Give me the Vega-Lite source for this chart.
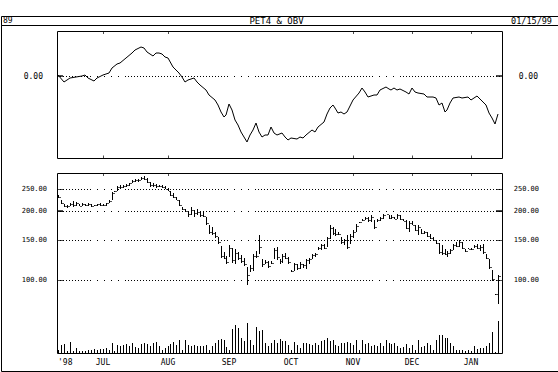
{
  "$schema": "https://vega.github.io/schema/vega-lite/v6.json",
  "padding": {"left": 0, "top": 15, "right": 0, "bottom": 0},
  "background": "white",
  "spacing": 0,
  "bounds": "flush",
  "config": {
    "view": {"stroke": "black", "strokeWidth": 1},
    "axis": {"disable": true},
    "mark": {"color": "black"},
    "text": {"font": "DejaVu Sans Mono", "fill": "black", "baseline": "middle"},
    "style": {
      "griddots": {
        "strokeDash": [
          1,2,1,2,1,2,1,2,1,2,1,2,1,2,1,2,1,2,1,2,1,2,
          1,6,1,6,1,6,1,6,1,6,
          1,2,1,2,1,2,1,2,1,2,1,2,1,2,1,2,1,2,1,2,
          1,2,1,2,1,2,1,2,1,2,1,2,1,2,1,2,1,2,1,2,
          1,2,1,2,1,2,1,2,1,2,1,2,1,2,1,2,1,2,1,2,
          1,2,1,2,1,2,1,2,
          1,6,1,6,1,6,1,6,
          1,2,1,2,1,2,1,2,1,2,1,2,1,2,1,2,1,2,1,2,
          1,2,1,2,1,2,1,2,1,2,1,2,1,2,1,2,1,2,1,2,
          1,2,1,2,1,2,1,2,1,2,1,2,1,2,1,2,1,2,1,2,
          1,2,1,2,1,2,1,2,1,2,1,2,1,2,1,2,1,2,
          1,6,1,6,1,6,1,6,
          1,2,1,2,1,2,1,2,1,2,1,2,1,2,1,2,1,2,1,2,
          1,2,1,2,1,2,1,2,1,2,1,2,1,2,1,2,1,2,1,2,
          1,2,1,2,1,2,1,2,1,2,1,2,1,2,1,2,1,2,1,2,
          1,2,1,2,1,2,1,2,1,2
        ]
      }
    }
  },
  "datasets": {
    "bars": [
      {"i":0,"h":235,"l":227,"c":229,"v":33},{"i":1,"h":224,"l":215,"c":217,"v":83},{"i":2,"h":215,"l":207,"c":209,"v":93},{"i":3,"h":213,"l":206,"c":211,"v":20},{"i":4,"h":216,"l":211,"c":214,"v":107},
      {"i":5,"h":220,"l":208,"c":212,"v":20},{"i":6,"h":218,"l":211,"c":216,"v":50},{"i":7,"h":214,"l":209,"c":211,"v":23},{"i":8,"h":217,"l":210,"c":214,"v":17},{"i":9,"h":215,"l":209,"c":213,"v":23},
      {"i":10,"h":216,"l":211,"c":215,"v":33},{"i":11,"h":214,"l":208,"c":210,"v":33},{"i":12,"h":213,"l":209,"c":212,"v":40},{"i":13,"h":215,"l":210,"c":214,"v":33},{"i":14,"h":216,"l":210,"c":213,"v":43},
      {"i":15,"h":214,"l":209,"c":212,"v":43},{"i":16,"h":217,"l":211,"c":216,"v":50},{"i":17,"h":223,"l":216,"c":221,"v":30},{"i":18,"h":241,"l":222,"c":239,"v":100},{"i":19,"h":244,"l":242,"c":243,"v":20},
      {"i":20,"h":256,"l":245,"c":253,"v":83},{"i":21,"h":258,"l":248,"c":255,"v":73},{"i":22,"h":259,"l":251,"c":257,"v":83},{"i":23,"h":262,"l":253,"c":260,"v":93},{"i":24,"h":265,"l":256,"c":263,"v":67},
      {"i":25,"h":271,"l":264,"c":269,"v":100},{"i":26,"h":274,"l":266,"c":271,"v":57},{"i":27,"h":274,"l":268,"c":272,"v":50},{"i":28,"h":280,"l":271,"c":278,"v":93},{"i":29,"h":282,"l":273,"c":276,"v":100},
      {"i":30,"h":278,"l":265,"c":268,"v":93},{"i":31,"h":266,"l":253,"c":258,"v":67},{"i":32,"h":263,"l":253,"c":260,"v":100},{"i":33,"h":262,"l":251,"c":256,"v":107},{"i":34,"h":260,"l":253,"c":257,"v":67},
      {"i":35,"h":259,"l":251,"c":254,"v":33},{"i":36,"h":256,"l":249,"c":250,"v":50},{"i":37,"h":251,"l":243,"c":245,"v":67},{"i":38,"h":244,"l":232,"c":234,"v":93},{"i":39,"h":239,"l":227,"c":230,"v":107},
      {"i":40,"h":229,"l":222,"c":224,"v":83},{"i":41,"h":222,"l":210,"c":212,"v":127},{"i":42,"h":208,"l":202,"c":204,"v":30},{"i":43,"h":204,"l":197,"c":199,"v":127},{"i":44,"h":199,"l":189,"c":194,"v":83},
      {"i":45,"h":208,"l":191,"c":201,"v":67},{"i":46,"h":201,"l":189,"c":195,"v":83},{"i":47,"h":204,"l":192,"c":198,"v":73},{"i":48,"h":197,"l":189,"c":192,"v":73},{"i":49,"h":199,"l":188,"c":190,"v":67},
      {"i":50,"h":188,"l":174,"c":177,"v":83},{"i":51,"h":174,"l":159,"c":162,"v":30},{"i":52,"h":170,"l":157.5,"c":160,"v":67},{"i":53,"h":162,"l":153,"c":155,"v":100},{"i":54,"h":154,"l":144,"c":146,"v":133},
      {"i":55,"h":140.7,"l":125,"c":128,"v":140},{"i":56,"h":132.6,"l":123,"c":125,"v":133},{"i":57,"h":128,"l":117,"c":120,"v":60},{"i":58,"h":141.7,"l":126,"c":138,"v":30},{"i":59,"h":138,"l":119,"c":122,"v":240},
      {"i":60,"h":137,"l":117,"c":131,"v":283},{"i":61,"h":132.6,"l":122,"c":125,"v":250},{"i":62,"h":129,"l":119,"c":121,"v":150},{"i":63,"h":125,"l":115.5,"c":118,"v":117},{"i":64,"h":114,"l":95,"c":105,"v":300},
      {"i":65,"h":116,"l":109,"c":113,"v":127},{"i":66,"h":130,"l":110,"c":127,"v":83},{"i":67,"h":133.5,"l":125,"c":128,"v":260},{"i":68,"h":156.5,"l":130,"c":140,"v":217},{"i":69,"h":124,"l":114,"c":117,"v":227},
      {"i":70,"h":122,"l":117,"c":120,"v":100},{"i":71,"h":121,"l":113,"c":115,"v":67},{"i":72,"h":121,"l":117,"c":119,"v":100},{"i":73,"h":138,"l":123,"c":135,"v":127},{"i":74,"h":140,"l":122,"c":126,"v":100},
      {"i":75,"h":123,"l":118,"c":121,"v":140},{"i":76,"h":130,"l":119,"c":127,"v":117},{"i":77,"h":131,"l":123,"c":125,"v":117},{"i":78,"h":126,"l":118,"c":120,"v":83},{"i":79,"h":111,"l":109,"c":110,"v":30},
      {"i":80,"h":119,"l":110,"c":117,"v":107},{"i":81,"h":117,"l":111,"c":113,"v":83},{"i":82,"h":120,"l":112,"c":118,"v":50},{"i":83,"h":118,"l":113,"c":116,"v":100},{"i":84,"h":124,"l":112,"c":122,"v":100},
      {"i":85,"h":125,"l":117,"c":124,"v":93},{"i":86,"h":130,"l":124,"c":129,"v":83},{"i":87,"h":131,"l":126,"c":130,"v":100},{"i":88,"h":139,"l":135,"c":138,"v":83},{"i":89,"h":144,"l":135,"c":142,"v":117},
      {"i":90,"h":143,"l":136,"c":138,"v":133},{"i":91,"h":154,"l":139,"c":152,"v":150},{"i":92,"h":173,"l":151,"c":168,"v":117},{"i":93,"h":170,"l":156.5,"c":160,"v":133},{"i":94,"h":167,"l":155,"c":158,"v":83},
      {"i":95,"h":162,"l":156.5,"c":159,"v":67},{"i":96,"h":154,"l":144,"c":147,"v":100},{"i":97,"h":151,"l":142,"c":149,"v":100},{"i":98,"h":156.5,"l":136,"c":140,"v":107},{"i":99,"h":159,"l":144,"c":156,"v":100},
      {"i":100,"h":164.5,"l":153,"c":162,"v":83},{"i":101,"h":175.8,"l":162.7,"c":172,"v":133},{"i":102,"h":179,"l":178,"c":178.7,"v":30},{"i":103,"h":184.8,"l":179.9,"c":183,"v":133},{"i":104,"h":189,"l":181.7,"c":187,"v":93},
      {"i":105,"h":187.9,"l":178.7,"c":182,"v":100},{"i":106,"h":191,"l":178.7,"c":189,"v":73},{"i":107,"h":182.9,"l":167.2,"c":170,"v":83},{"i":108,"h":184.8,"l":178.7,"c":183,"v":73},{"i":109,"h":189,"l":179.9,"c":187,"v":100},
      {"i":110,"h":193,"l":184.8,"c":191,"v":67},{"i":111,"h":194.5,"l":193.5,"c":194,"v":133},{"i":112,"h":192.3,"l":184.8,"c":186,"v":100},{"i":113,"h":191,"l":183.5,"c":189,"v":93},{"i":114,"h":187.9,"l":183.5,"c":185,"v":100},
      {"i":115,"h":193,"l":183.5,"c":191,"v":67},{"i":116,"h":192.3,"l":181.7,"c":184,"v":50},{"i":117,"h":184.8,"l":179.9,"c":181,"v":60},{"i":118,"h":181.7,"l":166,"c":168,"v":93},{"i":119,"h":179.9,"l":161.8,"c":177,"v":50},
      {"i":120,"h":179.9,"l":172.9,"c":174,"v":83},{"i":121,"h":174,"l":163,"c":165,"v":30},{"i":122,"h":172.9,"l":156.5,"c":170,"v":133},{"i":123,"h":166,"l":159.1,"c":161,"v":57},{"i":124,"h":163.4,"l":159.1,"c":162,"v":67},
      {"i":125,"h":161.8,"l":153.9,"c":155,"v":100},{"i":126,"h":159.1,"l":150.4,"c":152,"v":83},{"i":127,"h":153.9,"l":148,"c":149,"v":30},{"i":128,"h":148.9,"l":144,"c":145,"v":133},{"i":129,"h":145,"l":130.4,"c":132,"v":183},
      {"i":130,"h":142.6,"l":129,"c":131,"v":183},{"i":131,"h":137,"l":128.2,"c":130,"v":150},{"i":132,"h":133.5,"l":126.1,"c":131,"v":150},{"i":133,"h":137,"l":130.4,"c":135,"v":100},{"i":134,"h":144,"l":134.8,"c":142,"v":67},
      {"i":135,"h":146.4,"l":139.3,"c":141,"v":33},{"i":136,"h":149.9,"l":139.3,"c":147,"v":33},{"i":137,"h":146.4,"l":137,"c":138,"v":27},{"i":138,"h":137,"l":132.6,"c":134,"v":23},{"i":139,"h":137.5,"l":136.5,"c":137,"v":33},
      {"i":140,"h":137.9,"l":134.8,"c":136,"v":20},{"i":141,"h":142.6,"l":137.9,"c":141,"v":67},{"i":142,"h":144,"l":137,"c":138,"v":40},{"i":143,"h":141.7,"l":133.5,"c":140,"v":50},{"i":144,"h":144,"l":130.4,"c":132,"v":50},
      {"i":145,"h":130.4,"l":123.2,"c":125,"v":67},{"i":146,"h":123.2,"l":112.3,"c":114,"v":100},{"i":147,"h":110.4,"l":99,"c":101,"v":207},{"i":148,"h":87.5,"l":86.1,"c":87,"v":10},{"i":149,"h":105.1,"l":79.2,"c":104,"v":323}
    ],
    "obv": [
      {"i":0,"o":7},{"i":2,"o":-66},{"i":4,"o":-20},{"i":6,"o":-10},{"i":8,"o":0},{"i":9,"o":7},{"i":10,"o":-20},{"i":12,"o":-53},{"i":13,"o":-26},{"i":15,"o":7},
      {"i":17,"o":24},{"i":18,"o":74},{"i":20,"o":114},{"i":21,"o":124},{"i":23,"o":174},{"i":25,"o":224},{"i":26,"o":257},{"i":28,"o":284},{"i":29,"o":274},{"i":30,"o":240},
      {"i":32,"o":197},{"i":33,"o":224},{"i":34,"o":224},{"i":35,"o":214},{"i":36,"o":190},{"i":37,"o":174},{"i":39,"o":90},{"i":41,"o":24},{"i":42,"o":-10},{"i":43,"o":-60},
      {"i":44,"o":-43},{"i":46,"o":-26},{"i":47,"o":-60},{"i":48,"o":-93},{"i":50,"o":-143},{"i":51,"o":-193},{"i":53,"o":-243},{"i":54,"o":-293},{"i":55,"o":-360},{"i":56,"o":-410},
      {"i":57,"o":-393},{"i":58,"o":-286},{"i":59,"o":-343},{"i":60,"o":-443},{"i":61,"o":-493},{"i":62,"o":-560},{"i":64,"o":-660},{"i":65,"o":-593},{"i":66,"o":-543},{"i":67,"o":-476},
      {"i":68,"o":-560},{"i":69,"o":-610},{"i":70,"o":-593},{"i":71,"o":-593},{"i":72,"o":-510},{"i":73,"o":-576},{"i":74,"o":-593},{"i":76,"o":-576},{"i":77,"o":-610},{"i":78,"o":-643},
      {"i":79,"o":-620},{"i":81,"o":-633},{"i":82,"o":-610},{"i":83,"o":-626},{"i":84,"o":-593},{"i":86,"o":-543},{"i":87,"o":-566},{"i":88,"o":-510},{"i":90,"o":-460},{"i":91,"o":-386},
      {"i":92,"o":-326},{"i":93,"o":-293},{"i":94,"o":-326},{"i":95,"o":-376},{"i":96,"o":-360},{"i":97,"o":-386},{"i":98,"o":-360},{"i":99,"o":-300},{"i":100,"o":-243},{"i":102,"o":-176},
      {"i":103,"o":-126},{"i":104,"o":-160},{"i":105,"o":-210},{"i":107,"o":-193},{"i":108,"o":-193},{"i":109,"o":-143},{"i":111,"o":-110},{"i":112,"o":-133},{"i":113,"o":-143},{"i":114,"o":-126},
      {"i":115,"o":-143},{"i":116,"o":-133},{"i":118,"o":-160},{"i":119,"o":-180},{"i":120,"o":-126},{"i":121,"o":-160},{"i":122,"o":-176},{"i":124,"o":-185},{"i":125,"o":-210},{"i":127,"o":-210},
      {"i":128,"o":-226},{"i":129,"o":-293},{"i":130,"o":-276},{"i":131,"o":-360},{"i":132,"o":-343},{"i":133,"o":-276},{"i":134,"o":-226},{"i":136,"o":-210},{"i":137,"o":-220},{"i":139,"o":-210},
      {"i":140,"o":-243},{"i":141,"o":-220},{"i":142,"o":-203},{"i":143,"o":-233},{"i":144,"o":-266},{"i":145,"o":-293},{"i":146,"o":-376},{"i":147,"o":-420},{"i":148,"o":-486},{"i":149,"o":-386}
    ],
    "levels": [{"p":100},{"p":150},{"p":200},{"p":250}],
    "months": [{"i":15,"m":"JUL"},{"i":37,"m":"AUG"},{"i":58,"m":"SEP"},{"i":79,"m":"OCT"},{"i":100,"m":"NOV"},{"i":120,"m":"DEC"},{"i":140,"m":"JAN"}]
  },
  "vconcat": [
    {
      "width": 557,
      "height": 9,
      "layer": [
        {"data": {"values": [{"slot":"left","t":"89"}]}, "mark": {"type":"text","align":"left","dx":2,"fontSize":8},
         "encoding": {"x": {"field":"slot","type":"nominal","scale":{"type":"point","domain":["left","center","right"],"padding":0}}, "text": {"field":"t"}}},
        {"data": {"values": [{"slot":"center","t":"PET4 & OBV"}]}, "mark": {"type":"text","align":"center","dx":-3,"fontSize":9},
         "encoding": {"x": {"field":"slot","type":"nominal","scale":{"type":"point","domain":["left","center","right"],"padding":0}}, "text": {"field":"t"}}},
        {"data": {"values": [{"slot":"right","t":"01/15/99"}]}, "mark": {"type":"text","align":"right","dx":-6,"fontSize":8.5},
         "encoding": {"x": {"field":"slot","type":"nominal","scale":{"type":"point","domain":["left","center","right"],"padding":0}}, "text": {"field":"t"}}}
      ]
    },
    {
      "width": 557,
      "height": 346,
      "resolve": {"scale": {"y": "independent"}},
      "layer": [
        {
          "layer": [
            {"data": {"values": [{}]}, "mark": {"type":"rect","filled":false,"stroke":"black","strokeWidth":1,"xOffset":0.5,"x2Offset":0.5,"yOffset":0.5,"y2Offset":0.5},
             "encoding": {"x": {"datum": -0.5, "scale": {"domain":[-0.5,150.5],"range":[56,501],"nice":false,"zero":false,"round":true}}, "x2": {"datum": 150.5},
                          "y": {"datum": 447, "scale": {"domain":[-823,447],"range":[133,6],"nice":false,"zero":false,"round":true}}, "y2": {"datum": -823}}},
            {"data": {"values": [{}]}, "mark": {"type":"rule","style":"griddots","strokeWidth":1,"yOffset":0.5},
             "encoding": {"x": {"datum": -0.5}, "x2": {"datum": 150.5}, "y": {"datum": 0}}},
            {"data": {"values": [{}]}, "mark": {"type":"tick","orient":"horizontal","size":6,"thickness":2,"xOffset":3},
             "encoding": {"x": {"datum": -0.5}, "y": {"datum": 0}}},
            {"data": {"values": [{}]}, "mark": {"type":"tick","orient":"horizontal","size":6,"thickness":2,"xOffset":-3},
             "encoding": {"x": {"datum": 150.5}, "y": {"datum": 0}}},
            {"data": {"name": "months"}, "transform": [{"filter": "datum.m != 'SEP' && datum.m != 'OCT'"}],
             "mark": {"type":"tick","orient":"vertical","size":3,"thickness":1,"xOffset":0.5,"yOffset":1.5},
             "encoding": {"x": {"field":"i","type":"quantitative"}, "y": {"datum": 447}}},
            {"data": {"name": "months"}, "transform": [{"filter": "datum.m != 'SEP' && datum.m != 'OCT'"}],
             "mark": {"type":"tick","orient":"vertical","size":3,"thickness":1,"xOffset":0.5,"yOffset":-1},
             "encoding": {"x": {"field":"i","type":"quantitative"}, "y": {"datum": -823}}},
            {"data": {"name": "obv"}, "mark": {"type":"line","strokeWidth":1,"color":"black"},
             "encoding": {"x": {"field":"i","type":"quantitative"}, "y": {"field":"o","type":"quantitative"}}},
            {"data": {"values": [{"z":0}]}, "mark": {"type":"text","align":"right","dx":-14,"dy":1,"fontSize":8},
             "encoding": {"x": {"datum": -0.5}, "y": {"field":"z","type":"quantitative"}, "text": {"field":"z","type":"quantitative","format":".2f"}}},
            {"data": {"values": [{"z":0}]}, "mark": {"type":"text","align":"right","dx":36,"dy":1,"fontSize":8},
             "encoding": {"x": {"datum": 150.5}, "y": {"field":"z","type":"quantitative"}, "text": {"field":"z","type":"quantitative","format":".2f"}}}
          ]
        },
        {
          "layer": [
            {"data": {"values": [{}]}, "mark": {"type":"rect","filled":false,"stroke":"black","strokeWidth":1,"xOffset":0.5,"x2Offset":0.5,"yOffset":0.5,"y2Offset":0.5},
             "encoding": {"x": {"datum": -0.5}, "x2": {"datum": 150.5},
                          "y": {"datum": 292, "scale": {"type":"log","domain":[48.3,292],"range":[328,148],"nice":false,"round":true}}, "y2": {"datum": 48.3}}},
            {"data": {"name": "levels"}, "mark": {"type":"rule","style":"griddots","strokeWidth":1,"yOffset":0.5},
             "encoding": {"x": {"datum": -0.5}, "x2": {"datum": 150.5}, "y": {"field":"p","type":"quantitative"}}},
            {"data": {"name": "levels"}, "mark": {"type":"tick","orient":"horizontal","size":6,"thickness":1,"xOffset":3,"yOffset":0.5},
             "encoding": {"x": {"datum": -0.5}, "y": {"field":"p","type":"quantitative"}}},
            {"data": {"name": "levels"}, "mark": {"type":"tick","orient":"horizontal","size":6,"thickness":1,"xOffset":-3,"yOffset":0.5},
             "encoding": {"x": {"datum": 150.5}, "y": {"field":"p","type":"quantitative"}}},
            {"data": {"name": "levels"}, "transform": [{"filter": "datum.p == 200"}], "mark": {"type":"tick","orient":"horizontal","size":6,"thickness":2,"xOffset":3},
             "encoding": {"x": {"datum": -0.5}, "y": {"field":"p","type":"quantitative"}}},
            {"data": {"name": "levels"}, "transform": [{"filter": "datum.p == 200"}], "mark": {"type":"tick","orient":"horizontal","size":6,"thickness":2,"xOffset":-3},
             "encoding": {"x": {"datum": 150.5}, "y": {"field":"p","type":"quantitative"}}},
            {"data": {"name": "bars"}, "mark": {"type":"rule","strokeWidth":1,"xOffset":0.5},
             "encoding": {"x": {"field":"i","type":"quantitative"}, "y": {"field":"l","type":"quantitative"}, "y2": {"field":"h"}}},
            {"data": {"name": "bars"}, "mark": {"type":"tick","orient":"horizontal","size":2,"thickness":1,"xOffset":2,"yOffset":0.5},
             "encoding": {"x": {"field":"i","type":"quantitative"}, "y": {"field":"c","type":"quantitative"}}},
            {"data": {"name": "months"}, "transform": [{"filter": "datum.m != 'SEP' && datum.m != 'OCT'"}],
             "mark": {"type":"tick","orient":"vertical","size":3,"thickness":1,"xOffset":0.5,"yOffset":1.5},
             "encoding": {"x": {"field":"i","type":"quantitative"}, "y": {"datum": 292}}},
            {"data": {"name": "months"}, "mark": {"type":"text","align":"center","dy":10,"fontSize":8},
             "encoding": {"x": {"field":"i","type":"quantitative"}, "y": {"datum": 48.3}, "text": {"field":"m"}}},
            {"data": {"values": [{"t":"'98"}]}, "mark": {"type":"text","align":"left","dx":1,"dy":10,"fontSize":8},
             "encoding": {"x": {"datum": -0.5}, "y": {"datum": 48.3}, "text": {"field":"t"}}},
            {"data": {"name": "levels"}, "mark": {"type":"text","align":"right","dx":-10,"fontSize":7},
             "encoding": {"x": {"datum": -0.5}, "y": {"field":"p","type":"quantitative"}, "text": {"field":"p","type":"quantitative","format":".2f"}}},
            {"data": {"name": "levels"}, "mark": {"type":"text","align":"right","dx":37,"fontSize":7},
             "encoding": {"x": {"datum": 150.5}, "y": {"field":"p","type":"quantitative"}, "text": {"field":"p","type":"quantitative","format":".2f"}}}
          ]
        },
        {
          "data": {"name": "bars"},
          "mark": {"type":"rule","strokeWidth":1,"xOffset":0.5},
          "encoding": {
            "x": {"field":"i","type":"quantitative"},
            "y": {"field":"v","type":"quantitative","scale":{"domain":[0,350],"range":[328,293],"nice":false,"zero":true,"round":true}},
            "y2": {"datum": 0}
          }
        }
      ]
    }
  ]
}
